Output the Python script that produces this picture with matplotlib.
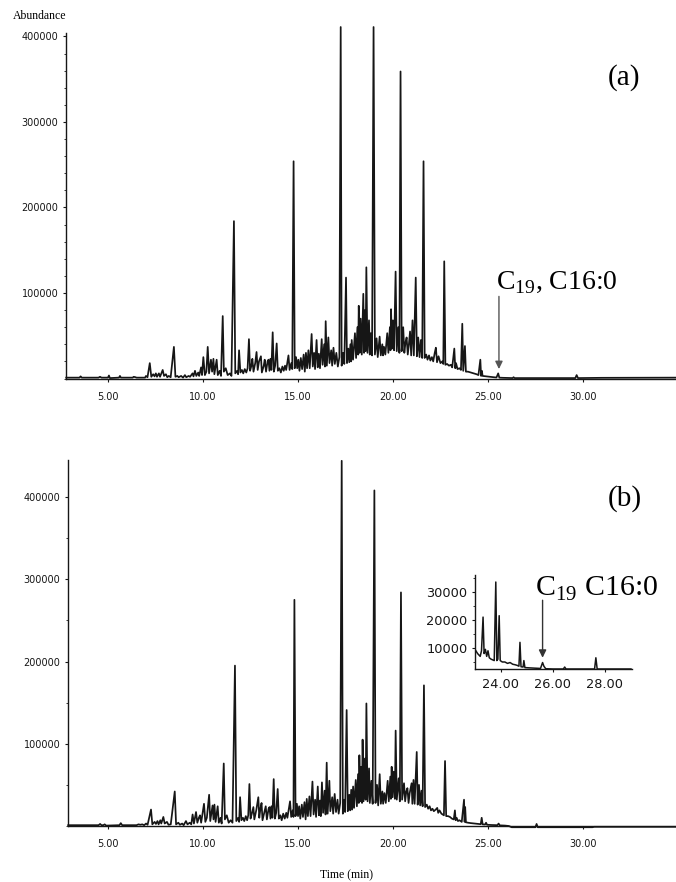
import matplotlib
matplotlib.use("Agg")
import matplotlib.pyplot as plt
from matplotlib.ticker import FuncFormatter, MultipleLocator

plt.rcParams['font.family'] = ['DejaVu Sans']
plt.rcParams['mathtext.fontset'] = 'custom'
plt.rcParams['mathtext.rm'] = 'Liberation Serif'

# chromatogram vertices: (time in min, abundance in thousands)
trace_a = [
    (2.8, 1), (3.5, 1), (3.56, 2.5), (3.62, 1), (4.5, 1), (4.58, 2), (4.66, 1), (5.0, 1), (5.05, 3.5),
    (5.1, 0.5), (5.58, 1), (5.63, 3), (5.68, 1), (6.3, 1), (6.35, 2), (6.45, 1.5), (6.5, 1), (6.95, 1),
    (7.0, 3), (7.08, 1.5), (7.2, 18), (7.28, 2), (7.38, 5), (7.45, 2.5), (7.52, 6), (7.58, 2), (7.68, 6),
    (7.74, 2), (7.88, 10), (7.95, 3), (8.05, 5), (8.12, 1.5), (8.2, 3), (8.3, 1.5), (8.47, 37), (8.55, 2),
    (8.65, 3), (8.72, 1.5), (8.85, 3), (8.95, 1), (9.05, 4), (9.12, 1.5), (9.25, 3), (9.32, 2), (9.45, 6),
    (9.5, 2.5), (9.58, 9), (9.65, 3), (9.75, 7), (9.8, 3), (9.9, 13), (9.95, 4), (10.02, 25), (10.1, 4),
    (10.18, 8), (10.25, 37), (10.32, 6), (10.42, 22), (10.48, 8), (10.55, 23), (10.6, 5), (10.72, 22),
    (10.78, 4), (10.88, 9), (10.95, 3), (11.04, 73), (11.1, 8), (11.2, 12), (11.3, 4), (11.42, 6),
    (11.5, 3), (11.63, 184), (11.7, 6), (11.8, 9), (11.85, 5), (11.9, 33), (11.97, 7), (12.05, 10),
    (12.12, 6), (12.2, 11), (12.28, 7), (12.35, 12), (12.42, 46), (12.48, 9), (12.55, 15), (12.6, 23),
    (12.66, 8), (12.75, 18), (12.82, 31), (12.88, 10), (12.95, 20), (13.05, 26), (13.1, 7), (13.2, 15),
    (13.25, 22), (13.32, 8), (13.4, 20), (13.45, 22), (13.5, 9), (13.55, 23), (13.6, 10), (13.67, 54),
    (13.73, 8), (13.8, 15), (13.88, 41), (13.94, 9), (14.02, 12), (14.1, 7), (14.18, 14), (14.25, 9),
    (14.32, 15), (14.38, 10), (14.5, 27), (14.56, 10), (14.65, 18), (14.7, 11), (14.77, 254), (14.83, 12),
    (14.9, 25), (14.96, 12), (15.02, 22), (15.08, 9), (15.15, 24), (15.22, 11), (15.3, 28), (15.36, 8),
    (15.42, 30), (15.48, 12), (15.55, 33), (15.62, 12), (15.72, 52), (15.78, 14), (15.85, 30), (15.9, 11),
    (15.98, 45), (16.04, 13), (16.1, 29), (16.16, 12), (16.25, 46), (16.3, 16), (16.38, 40), (16.42, 14),
    (16.46, 67), (16.52, 15), (16.6, 48), (16.66, 18), (16.75, 33), (16.8, 15), (16.87, 36), (16.94, 17),
    (17.02, 30), (17.1, 14), (17.18, 25), (17.25, 411), (17.3, 15), (17.38, 30), (17.44, 17), (17.53, 118),
    (17.58, 18), (17.65, 35), (17.7, 19), (17.76, 40), (17.8, 20), (17.83, 45), (17.9, 22), (18.0, 53),
    (18.06, 24), (18.13, 60), (18.17, 28), (18.2, 85), (18.25, 30), (18.3, 70), (18.36, 28), (18.44, 99),
    (18.48, 30), (18.53, 80), (18.56, 32), (18.6, 130), (18.66, 30), (18.74, 68), (18.78, 28), (18.83, 53),
    (18.9, 27), (18.98, 411), (19.05, 28), (19.14, 47), (19.2, 25), (19.3, 49), (19.36, 27), (19.44, 40),
    (19.48, 27), (19.53, 37), (19.6, 28), (19.7, 53), (19.76, 30), (19.84, 60), (19.87, 33), (19.9, 81),
    (19.95, 35), (20.0, 68), (20.06, 33), (20.14, 125), (20.2, 32), (20.28, 60), (20.34, 30), (20.4, 359),
    (20.46, 32), (20.54, 60), (20.6, 30), (20.66, 42), (20.72, 48), (20.78, 28), (20.84, 40), (20.9, 55),
    (20.96, 27), (21.03, 68), (21.1, 27), (21.2, 118), (21.26, 26), (21.33, 48), (21.4, 25), (21.47, 45),
    (21.54, 24), (21.61, 254), (21.67, 24), (21.75, 28), (21.82, 22), (21.9, 27), (21.97, 21), (22.05, 25),
    (22.12, 20), (22.2, 30), (22.26, 36), (22.32, 19), (22.4, 26), (22.5, 18), (22.6, 20), (22.65, 17),
    (22.7, 137), (22.76, 16), (22.85, 17), (22.95, 15), (23.05, 16), (23.12, 13), (23.23, 35), (23.28, 12),
    (23.32, 18), (23.4, 11), (23.5, 12), (23.58, 10), (23.65, 64), (23.7, 9), (23.79, 38), (23.84, 8),
    (23.95, 8), (24.1, 7), (24.25, 6), (24.4, 5), (24.5, 4), (24.6, 22), (24.64, 3), (24.68, 9), (24.72, 3),
    (24.9, 2.5), (25.1, 2), (25.3, 1.5), (25.45, 1.2), (25.54, 6), (25.6, 1), (25.8, 0.8), (26.3, 0.5),
    (26.35, 1.5), (26.4, 0.5), (27.0, 0.5), (29.6, 0.5), (29.67, 4), (29.74, 0.5), (31.0, 0.8), (34.9, 1),
]

trace_b = [
    (2.9, 1), (4.5, 1), (4.58, 2.5), (4.65, 1), (4.75, 1), (4.82, 2), (4.9, 0.5), (5.6, 1), (5.67, 3.5),
    (5.74, 1), (6.5, 1), (6.6, 2), (6.7, 1.5), (6.8, 2), (6.9, 1), (7.0, 3), (7.08, 1.5), (7.26, 20),
    (7.33, 2), (7.45, 5), (7.52, 2.5), (7.6, 6), (7.66, 2), (7.75, 7), (7.8, 3), (7.91, 11), (7.98, 3),
    (8.1, 5), (8.18, 1.5), (8.3, 2), (8.51, 42), (8.58, 2), (8.7, 4), (8.78, 1.5), (8.9, 3), (8.98, 1),
    (9.1, 6), (9.18, 2), (9.3, 4), (9.38, 2), (9.45, 14), (9.52, 3), (9.63, 17), (9.7, 4), (9.78, 10),
    (9.84, 13), (9.9, 4), (10.05, 27), (10.12, 5), (10.2, 10), (10.32, 38), (10.38, 6), (10.5, 25),
    (10.55, 8), (10.6, 26), (10.66, 5), (10.77, 24), (10.83, 4), (10.92, 10), (10.98, 3), (11.09, 76),
    (11.15, 8), (11.25, 13), (11.35, 4), (11.45, 7), (11.55, 4), (11.68, 195), (11.75, 6), (11.85, 10),
    (11.9, 5), (11.95, 35), (12.02, 7), (12.1, 10), (12.17, 6), (12.25, 12), (12.32, 7), (12.38, 13),
    (12.44, 51), (12.5, 9), (12.58, 16), (12.65, 23), (12.7, 8), (12.8, 19), (12.91, 35), (12.96, 10),
    (13.02, 21), (13.08, 28), (13.13, 7), (13.22, 16), (13.3, 24), (13.36, 8), (13.45, 21), (13.5, 23),
    (13.55, 9), (13.6, 24), (13.65, 10), (13.72, 57), (13.78, 9), (13.85, 16), (13.93, 45), (13.99, 9),
    (14.07, 13), (14.14, 7), (14.22, 15), (14.3, 9), (14.38, 16), (14.44, 10), (14.58, 30), (14.64, 11),
    (14.72, 19), (14.76, 11), (14.81, 275), (14.87, 12), (14.94, 27), (15.0, 12), (15.06, 24), (15.12, 9),
    (15.2, 26), (15.26, 11), (15.34, 29), (15.4, 8), (15.46, 33), (15.52, 12), (15.6, 36), (15.66, 12),
    (15.76, 54), (15.82, 14), (15.9, 32), (15.95, 11), (16.04, 48), (16.1, 13), (16.16, 31), (16.2, 12),
    (16.26, 53), (16.32, 16), (16.4, 43), (16.45, 14), (16.51, 77), (16.56, 15), (16.65, 55), (16.7, 18),
    (16.8, 35), (16.85, 15), (16.93, 39), (17.0, 17), (17.08, 32), (17.14, 15), (17.22, 28), (17.3, 444),
    (17.36, 15), (17.43, 32), (17.48, 17), (17.56, 141), (17.62, 18), (17.7, 38), (17.75, 19), (17.8, 44),
    (17.85, 20), (17.9, 48), (17.95, 22), (18.04, 56), (18.1, 24), (18.16, 63), (18.2, 28), (18.23, 86),
    (18.28, 30), (18.33, 72), (18.37, 28), (18.4, 105), (18.45, 30), (18.52, 82), (18.56, 32), (18.6, 149),
    (18.66, 30), (18.74, 70), (18.78, 28), (18.86, 55), (18.93, 27), (19.02, 408), (19.08, 28), (19.16, 50),
    (19.22, 25), (19.3, 63), (19.36, 27), (19.44, 42), (19.48, 27), (19.55, 40), (19.62, 28), (19.72, 55),
    (19.78, 30), (19.86, 60), (19.89, 33), (19.93, 72), (19.98, 35), (20.04, 66), (20.1, 33), (20.14, 116),
    (20.2, 32), (20.3, 58), (20.36, 30), (20.42, 284), (20.48, 32), (20.58, 52), (20.64, 30), (20.7, 42),
    (20.76, 46), (20.82, 28), (20.88, 40), (20.98, 52), (21.02, 27), (21.08, 56), (21.14, 27), (21.25, 90),
    (21.3, 26), (21.37, 50), (21.43, 25), (21.5, 43), (21.56, 24), (21.63, 171), (21.69, 23), (21.78, 26),
    (21.85, 21), (21.93, 24), (22.0, 19), (22.08, 21), (22.15, 18), (22.25, 20), (22.33, 22), (22.38, 16),
    (22.45, 19), (22.55, 15), (22.62, 14), (22.68, 13), (22.74, 79), (22.8, 12), (22.9, 12), (23.0, 11),
    (23.1, 9), (23.2, 8), (23.26, 19), (23.3, 7), (23.35, 10), (23.42, 6), (23.5, 7), (23.62, 5),
    (23.74, 32), (23.77, 5), (23.8, 23), (23.84, 4.5), (23.95, 4), (24.1, 3.5), (24.3, 3), (24.5, 2.5),
    (24.62, 2.2), (24.67, 10), (24.72, 2), (24.85, 1.8), (24.9, 4), (24.95, 1.5), (25.2, 1.2), (25.5, 1),
    (25.56, 3), (25.62, 0.8), (25.9, 0.5), (26.1, 0), (26.25, -1.5), (27.5, -1.5), (27.56, 2.5),
    (27.62, -1.5), (30.5, -1.5), (30.6, -1), (34.9, -1),
]

trace_inset = [
    (23.0, 9.5), (23.1, 8), (23.2, 7), (23.25, 9), (23.31, 21), (23.35, 8), (23.4, 9.5), (23.45, 7),
    (23.5, 9), (23.55, 6.5), (23.62, 6), (23.74, 5.5), (23.8, 33.5), (23.84, 5.5), (23.88, 6),
    (23.93, 21.5), (23.97, 5.5), (24.05, 5), (24.15, 5), (24.25, 4.5), (24.35, 4.8), (24.45, 4.2),
    (24.55, 4), (24.62, 3.8), (24.69, 3.5), (24.73, 12), (24.77, 3.3), (24.85, 3.2), (24.88, 5.5),
    (24.92, 3), (25.1, 2.9), (25.3, 2.8), (25.52, 2.7), (25.6, 4.8), (25.65, 3.5), (25.72, 2.6),
    (26.0, 2.5), (26.4, 2.5), (26.45, 3.2), (26.5, 2.5), (27.6, 2.5), (27.65, 6.5), (27.7, 2.5), (29.0, 2.5),
]

xticks_main = [5, 10, 15, 20, 25, 30]
yticks_main = [100000, 200000, 300000, 400000]
xticks_inset = [24, 26, 28]
yticks_inset = [10000, 20000, 30000]

W, H = 676, 882
ink = '#161616'
serif = 'Liberation Serif'


def unpack(trace):
    t = [p[0] for p in trace]
    v = [p[1] * 1000 for p in trace]
    return t, v


def style(ax, minor_y, labelsize=7):
    for s in ['top', 'right']:
        ax.spines[s].set_visible(False)
    for s in ['left', 'bottom']:
        ax.spines[s].set_linewidth(1.0)
        ax.spines[s].set_color(ink)
    ax.yaxis.set_minor_locator(MultipleLocator(minor_y))
    ax.tick_params(which='major', length=2.5, width=0.8, labelsize=labelsize, colors=ink, pad=3)
    ax.tick_params(which='minor', length=1.5, width=0.6, colors=ink)
    ax.tick_params(axis='x', which='major', pad=7)
    ax.xaxis.set_major_formatter(FuncFormatter(lambda v, p: f'{v:.2f}'))
    ax.yaxis.set_major_formatter(FuncFormatter(lambda v, p: f'{int(v)}'))


fig = plt.figure(figsize=(W / 100, H / 100), dpi=100)

# panel (a)
ax_a = fig.add_axes([66 / W, 1 - 378.5 / H, 610 / W, 345.5 / H])
ta, va = unpack(trace_a)
ax_a.plot(ta, va, color=ink, lw=1.25, clip_on=False)
ax_a.set_xlim(2.79, 34.9)
ax_a.set_ylim(0, 404000)
ax_a.set_xticks(xticks_main)
ax_a.set_yticks(yticks_main)
style(ax_a, 20000)
ax_a.text(0.915, 0.87, '(a)', transform=ax_a.transAxes, fontsize=21, family=serif,
          ha='center', va='center')
ax_a.text(25.45, 105000, r'C$_{\rm 19}$, C16:0', fontsize=20, family=serif, va='baseline')
ax_a.annotate('', xy=(25.58, 11000), xytext=(25.58, 96000),
              arrowprops=dict(arrowstyle='-|>,head_width=0.22,head_length=0.45', color='#555555',
                              lw=1.0, shrinkA=0, shrinkB=0))

# panel (b)
ax_b = fig.add_axes([68 / W, 1 - 826 / H, 608 / W, 366 / H])
tb, vb = unpack(trace_b)
ax_b.plot(tb, vb, color=ink, lw=1.25, clip_on=False)
ax_b.set_xlim(2.89, 34.9)
ax_b.set_ylim(0, 445000)
ax_b.set_xticks(xticks_main)
ax_b.set_yticks(yticks_main)
style(ax_b, 50000)
ax_b.text(0.915, 0.895, '(b)', transform=ax_b.transAxes, fontsize=21, family=serif,
          ha='center', va='center')

# inset of panel (b)
ax_i = fig.add_axes([475 / W, 1 - 669 / H, 157 / W, 94 / H])
ti, vi = unpack(trace_inset)
ax_i.plot(ti, vi, color=ink, lw=1.1)
ax_i.set_xlim(23.0, 29.04)
ax_i.set_ylim(2500, 36000)
ax_i.set_xticks(xticks_inset)
ax_i.set_yticks(yticks_inset)
style(ax_i, 5000, labelsize=9.3)
ax_i.tick_params(axis='x', which='major', pad=4)
ax_i.text(25.3, 28500, r'C$_{\rm 19}$ C16:0', fontsize=21.5, family=serif, va='baseline')
ax_i.annotate('', xy=(25.6, 6500), xytext=(25.6, 27000),
              arrowprops=dict(arrowstyle='-|>,head_width=0.22,head_length=0.45', color='#333333',
                              lw=1.0, shrinkA=0, shrinkB=0))

fig.text(13 / W, 1 - 16 / H, 'Abundance', family=serif, fontsize=8.5, va='center', ha='left')
fig.text(347 / W, 1 - 875 / H, 'Time (min)', family=serif, fontsize=8.5, va='center', ha='center')

fig.savefig('out.png', dpi=100)
